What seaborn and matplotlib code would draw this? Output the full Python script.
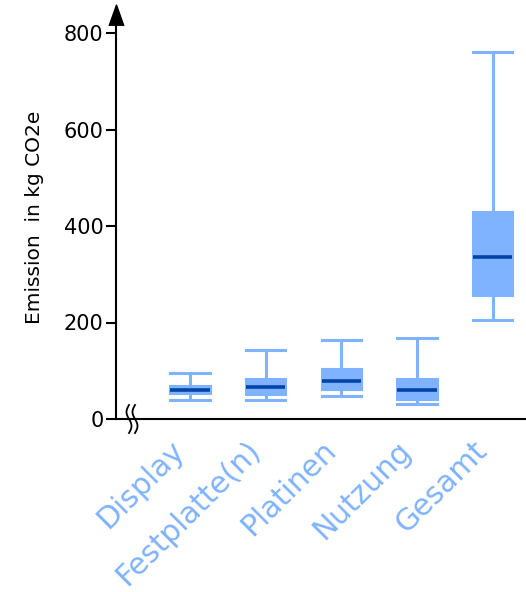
import numpy as np
import pandas as pd
import seaborn as sns
import matplotlib.pyplot as plt

categories = ['Display', 'Festplatte(n)', 'Platinen', 'Nutzung', 'Gesamt']
# five-number summary per category (kg CO2e)
low = [39, 39, 48, 31, 205]
q1 = [53, 51, 62, 41, 257]
median = [61, 66, 79, 61, 335]
q3 = [69, 82, 104, 82, 430]
high = [95, 143, 164, 168, 761]
yticks = [0, 200, 400, 600, 800]

rows = []
for i, c in enumerate(categories):
    for v in (low[i], q1[i], median[i], q3[i], high[i]):
        rows.append({'Kategorie': c, 'Emission': v})
df = pd.DataFrame(rows)

light = '#80b3ff'
dark = '#0044aa'
box_w = 0.52

W, H = 526, 592
fig, ax = plt.subplots(figsize=(W / 100, H / 100), dpi=100)
fig.subplots_adjust(left=116 / W, right=1.0, bottom=1 - 419 / H, top=1 - 15 / H)

sns.boxplot(data=df, x='Kategorie', y='Emission', order=categories,
            color=light, saturation=1, width=box_w, whis=(0, 100),
            showfliers=False, linecolor=light, linewidth=2.2,
            boxprops=dict(facecolor=light, edgecolor=light),
            medianprops=dict(color=dark, linewidth=2.6),
            whiskerprops=dict(color=light, linewidth=2.2),
            capprops=dict(color=light, linewidth=2.2),
            ax=ax)

# caps as wide as the boxes
for ln in ax.lines:
    xd, yd = np.asarray(ln.get_xdata(), float), np.asarray(ln.get_ydata(), float)
    if len(xd) == 2 and yd[0] == yd[1] and ln.get_color() == light:
        c = xd.mean()
        ln.set_xdata([c - box_w / 2, c + box_w / 2])

ax.set_xlim(-0.98, 4.44)
ax.set_ylim(0, (419 - 15) / 0.4825)
ax.set_yticks(yticks)
ax.tick_params(axis='y', labelsize=15, length=7, width=1.5, pad=2)
ax.tick_params(axis='x', length=0, pad=12)
ax.set_xticks(range(len(categories)))
ax.set_xticklabels(categories, rotation=45, ha='right',
                   color=light, fontsize=21.5)
ax.set_xlabel('')
ax.set_ylabel('Emission  in kg CO2e', fontsize=14.5, labelpad=14)
for s in ['top', 'right']:
    ax.spines[s].set_visible(False)
for s in ['left', 'bottom']:
    ax.spines[s].set_linewidth(1.5)

# arrow head on the y axis
ax.plot(0, 1, marker=[(-0.71, -1), (0, 1), (0.71, -1)], markersize=15,
        color='black', transform=ax.transAxes, clip_on=False)

# axis break marks near the origin
t = np.linspace(-1, 1, 40)
for x0 in (129, 135):
    xs = (x0 - 2.5 * np.sin(np.pi * t)) / W
    ys = 1 - (419 - 14 * t) / H
    ax.plot(xs, ys, color='black', lw=1.3, transform=fig.transFigure,
            clip_on=False)

fig.savefig('out.png', dpi=100)
